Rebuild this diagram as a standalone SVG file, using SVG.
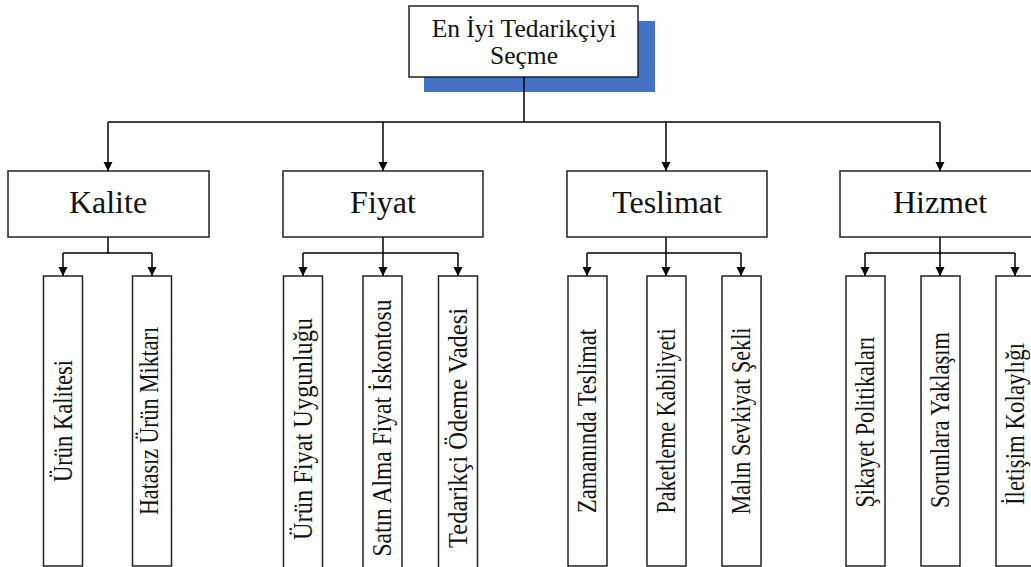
<svg xmlns="http://www.w3.org/2000/svg" width="1031" height="567" viewBox="0 0 1031 567">
<style>
.box{fill:#fff;stroke:#222;stroke-width:1.5}
.ln{fill:none;stroke:#000;stroke-width:1.5}
text{font-family:'Liberation Serif','DejaVu Serif',serif;fill:#111}
.top{font-size:25.5px;text-anchor:middle}
.cat{font-size:32px;text-anchor:middle}
.sub{font-size:27px;text-anchor:middle}
</style>
<defs>
<marker id="ar" markerUnits="userSpaceOnUse" markerWidth="10" markerHeight="10" refX="9" refY="4.5" orient="auto">
<path d="M0,0 L9,4.5 L0,9 Z" fill="#000"/>
</marker>
</defs>
<g id="root">
<rect x="424" y="21" width="231" height="71" fill="#4472C4"/>
<rect class="box" x="409" y="6" width="229" height="71"/>
<text class="top" x="524" y="37">En İyi Tedarikçiyi</text>
<text class="top" x="524" y="64">Seçme</text>
</g>
<g id="connectors">
<path class="ln" d="M524,77 V122 M108,122 H940"/>
<path class="ln" marker-end="url(#ar)" d="M108,122 V171"/>
<path class="ln" marker-end="url(#ar)" d="M383,122 V171"/>
<path class="ln" marker-end="url(#ar)" d="M666,122 V171"/>
<path class="ln" marker-end="url(#ar)" d="M940,122 V171"/>
<path class="ln" d="M108,237 V253 M63,253 H152"/>
<path class="ln" marker-end="url(#ar)" d="M63,253 V276"/>
<path class="ln" marker-end="url(#ar)" d="M152,253 V276"/>
<path class="ln" d="M383,237 V253 M303,253 H458"/>
<path class="ln" marker-end="url(#ar)" d="M303,253 V276"/>
<path class="ln" marker-end="url(#ar)" d="M383,253 V276"/>
<path class="ln" marker-end="url(#ar)" d="M458,253 V276"/>
<path class="ln" d="M666,237 V253 M587,253 H741"/>
<path class="ln" marker-end="url(#ar)" d="M587,253 V276"/>
<path class="ln" marker-end="url(#ar)" d="M666,253 V276"/>
<path class="ln" marker-end="url(#ar)" d="M741,253 V276"/>
<path class="ln" d="M940,237 V253 M865,253 H1015"/>
<path class="ln" marker-end="url(#ar)" d="M865,253 V276"/>
<path class="ln" marker-end="url(#ar)" d="M940,253 V276"/>
<path class="ln" marker-end="url(#ar)" d="M1015,253 V276"/>
</g>
<g id="kalite">
<rect class="box" x="8" y="171" width="201" height="66"/>
<text class="cat" x="108" y="213">Kalite</text>
</g>
<g id="fiyat">
<rect class="box" x="283" y="171" width="200" height="66"/>
<text class="cat" x="383" y="213">Fiyat</text>
</g>
<g id="teslimat">
<rect class="box" x="567" y="171" width="200" height="66"/>
<text class="cat" x="667" y="213">Teslimat</text>
</g>
<g id="hizmet">
<rect class="box" x="840" y="171" width="201" height="66"/>
<text class="cat" x="940" y="213">Hizmet</text>
</g>
<g id="urun-kalitesi">
<rect class="box" x="43.5" y="276" width="39" height="290"/>
<text class="sub" transform="translate(72,421) rotate(-90)" textLength="122" lengthAdjust="spacingAndGlyphs">Ürün Kalitesi</text>
</g>
<g id="hatasiz">
<rect class="box" x="132.5" y="276" width="39" height="290"/>
<text class="sub" transform="translate(158,421) rotate(-90)" textLength="188" lengthAdjust="spacingAndGlyphs">Hatasız Ürün Miktarı</text>
</g>
<g id="urun-fiyat">
<rect class="box" x="283.5" y="276" width="39" height="292"/>
<text class="sub" transform="translate(312,429) rotate(-90)" textLength="222" lengthAdjust="spacingAndGlyphs">Ürün Fiyat Uygunluğu</text>
</g>
<g id="iskonto">
<rect class="box" x="363" y="276" width="39" height="292"/>
<text class="sub" transform="translate(391,428) rotate(-90)" textLength="257" lengthAdjust="spacingAndGlyphs">Satın Alma Fiyat İskontosu</text>
</g>
<g id="vade">
<rect class="box" x="438.5" y="276" width="39" height="292"/>
<text class="sub" transform="translate(467,428) rotate(-90)" textLength="240" lengthAdjust="spacingAndGlyphs">Tedarikçi Ödeme Vadesi</text>
</g>
<g id="zamaninda">
<rect class="box" x="568" y="276" width="39" height="290"/>
<text class="sub" transform="translate(596,421) rotate(-90)" textLength="184" lengthAdjust="spacingAndGlyphs">Zamanında Teslimat</text>
</g>
<g id="paketleme">
<rect class="box" x="647" y="276" width="39" height="290"/>
<text class="sub" transform="translate(675,421) rotate(-90)" textLength="185" lengthAdjust="spacingAndGlyphs">Paketleme Kabiliyeti</text>
</g>
<g id="sevkiyat">
<rect class="box" x="722" y="276" width="39" height="290"/>
<text class="sub" transform="translate(750,421) rotate(-90)" textLength="187" lengthAdjust="spacingAndGlyphs">Malın Sevkiyat Şekli</text>
</g>
<g id="sikayet">
<rect class="box" x="846" y="276" width="39" height="290"/>
<text class="sub" transform="translate(874,422) rotate(-90)" textLength="171" lengthAdjust="spacingAndGlyphs">Şikayet Politikaları</text>
</g>
<g id="sorunlar">
<rect class="box" x="921" y="276" width="39" height="290"/>
<text class="sub" transform="translate(949,420) rotate(-90)" textLength="176" lengthAdjust="spacingAndGlyphs">Sorunlara Yaklaşım</text>
</g>
<g id="iletisim">
<rect class="box" x="996" y="276" width="39" height="290"/>
<text class="sub" transform="translate(1024,424) rotate(-90)" textLength="162" lengthAdjust="spacingAndGlyphs">İletişim Kolaylığı</text>
</g>
</svg>
